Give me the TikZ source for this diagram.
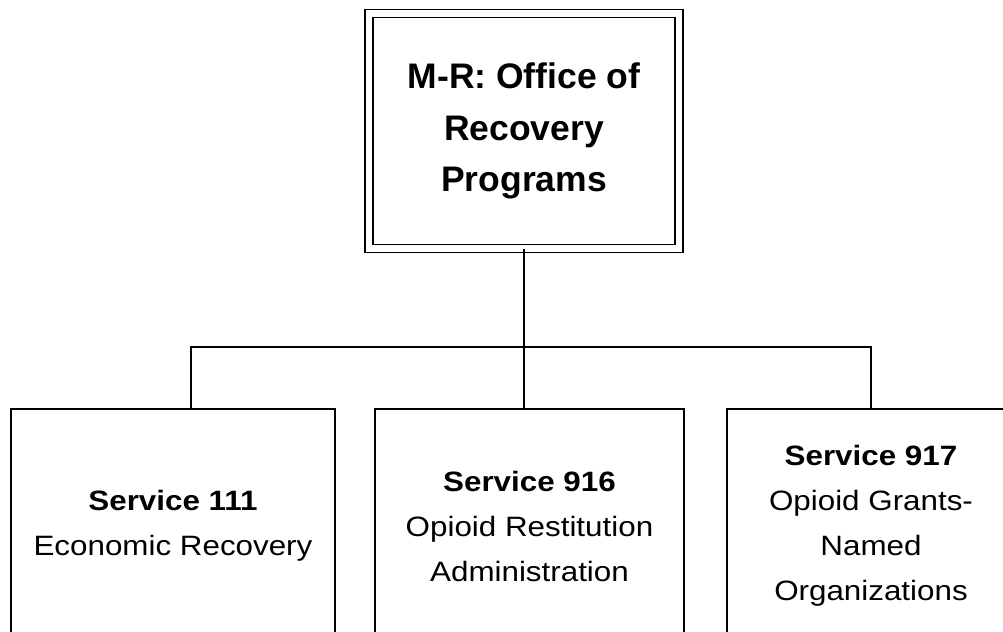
\documentclass[tikz,border=0pt]{standalone}
\usepackage{fontspec}
\setmainfont{Liberation Sans}
\newfontfamily\titlefont{Liberation Sans}
\newfontfamily\bodyfont[FakeStretch=1.12]{Liberation Sans}
\begin{document}
\begin{tikzpicture}[x=1bp,y=-1bp,
  headbox/.style={draw, double, double distance=6.4bp, line width=1.6bp,
    minimum width=310.5bp, minimum height=235bp, inner sep=0pt,
    align=center, font=\titlefont\bfseries\fontsize{35.5bp}{51.5bp}\selectfont},
  unitbox/.style={draw, line width=1.6bp, minimum height=234bp, inner sep=0pt,
    align=center, font=\bodyfont\fontsize{28bp}{45bp}\selectfont},
  wire/.style={draw=black, line width=1.6bp, line cap=rect}]
  \useasboundingbox (0,0) rectangle (1003,632);
  \clip (0,0) rectangle (1003,632);

  % head office
  \node[headbox] (top) at (524,131) {M-R: Office of\\Recovery\\Programs};

  % services
  \node[unitbox, minimum width=324bp] (b1) at (173,526)
    {\textbf{Service 111}\\Economic Recovery};
  \node[unitbox, minimum width=309bp] (b2) at (529.5,526)
    {\textbf{Service 916}\\Opioid Restitution\\Administration};
  \node[unitbox, minimum width=288bp] (b3) at (871,526)
    {\textbf{Service 917}\\Opioid Grants-\\Named\\Organizations};

  % bus of the organisation chart
  \coordinate (c1) at (191,347);
  \coordinate (c3) at (871,347);
  \draw[wire] (c1 |- b1.north) -- (c1) -- (c3) -- (c3 |- b3.north);
  \draw[wire] (top.south) -- (top.south |- b2.north);
\end{tikzpicture}
\end{document}
